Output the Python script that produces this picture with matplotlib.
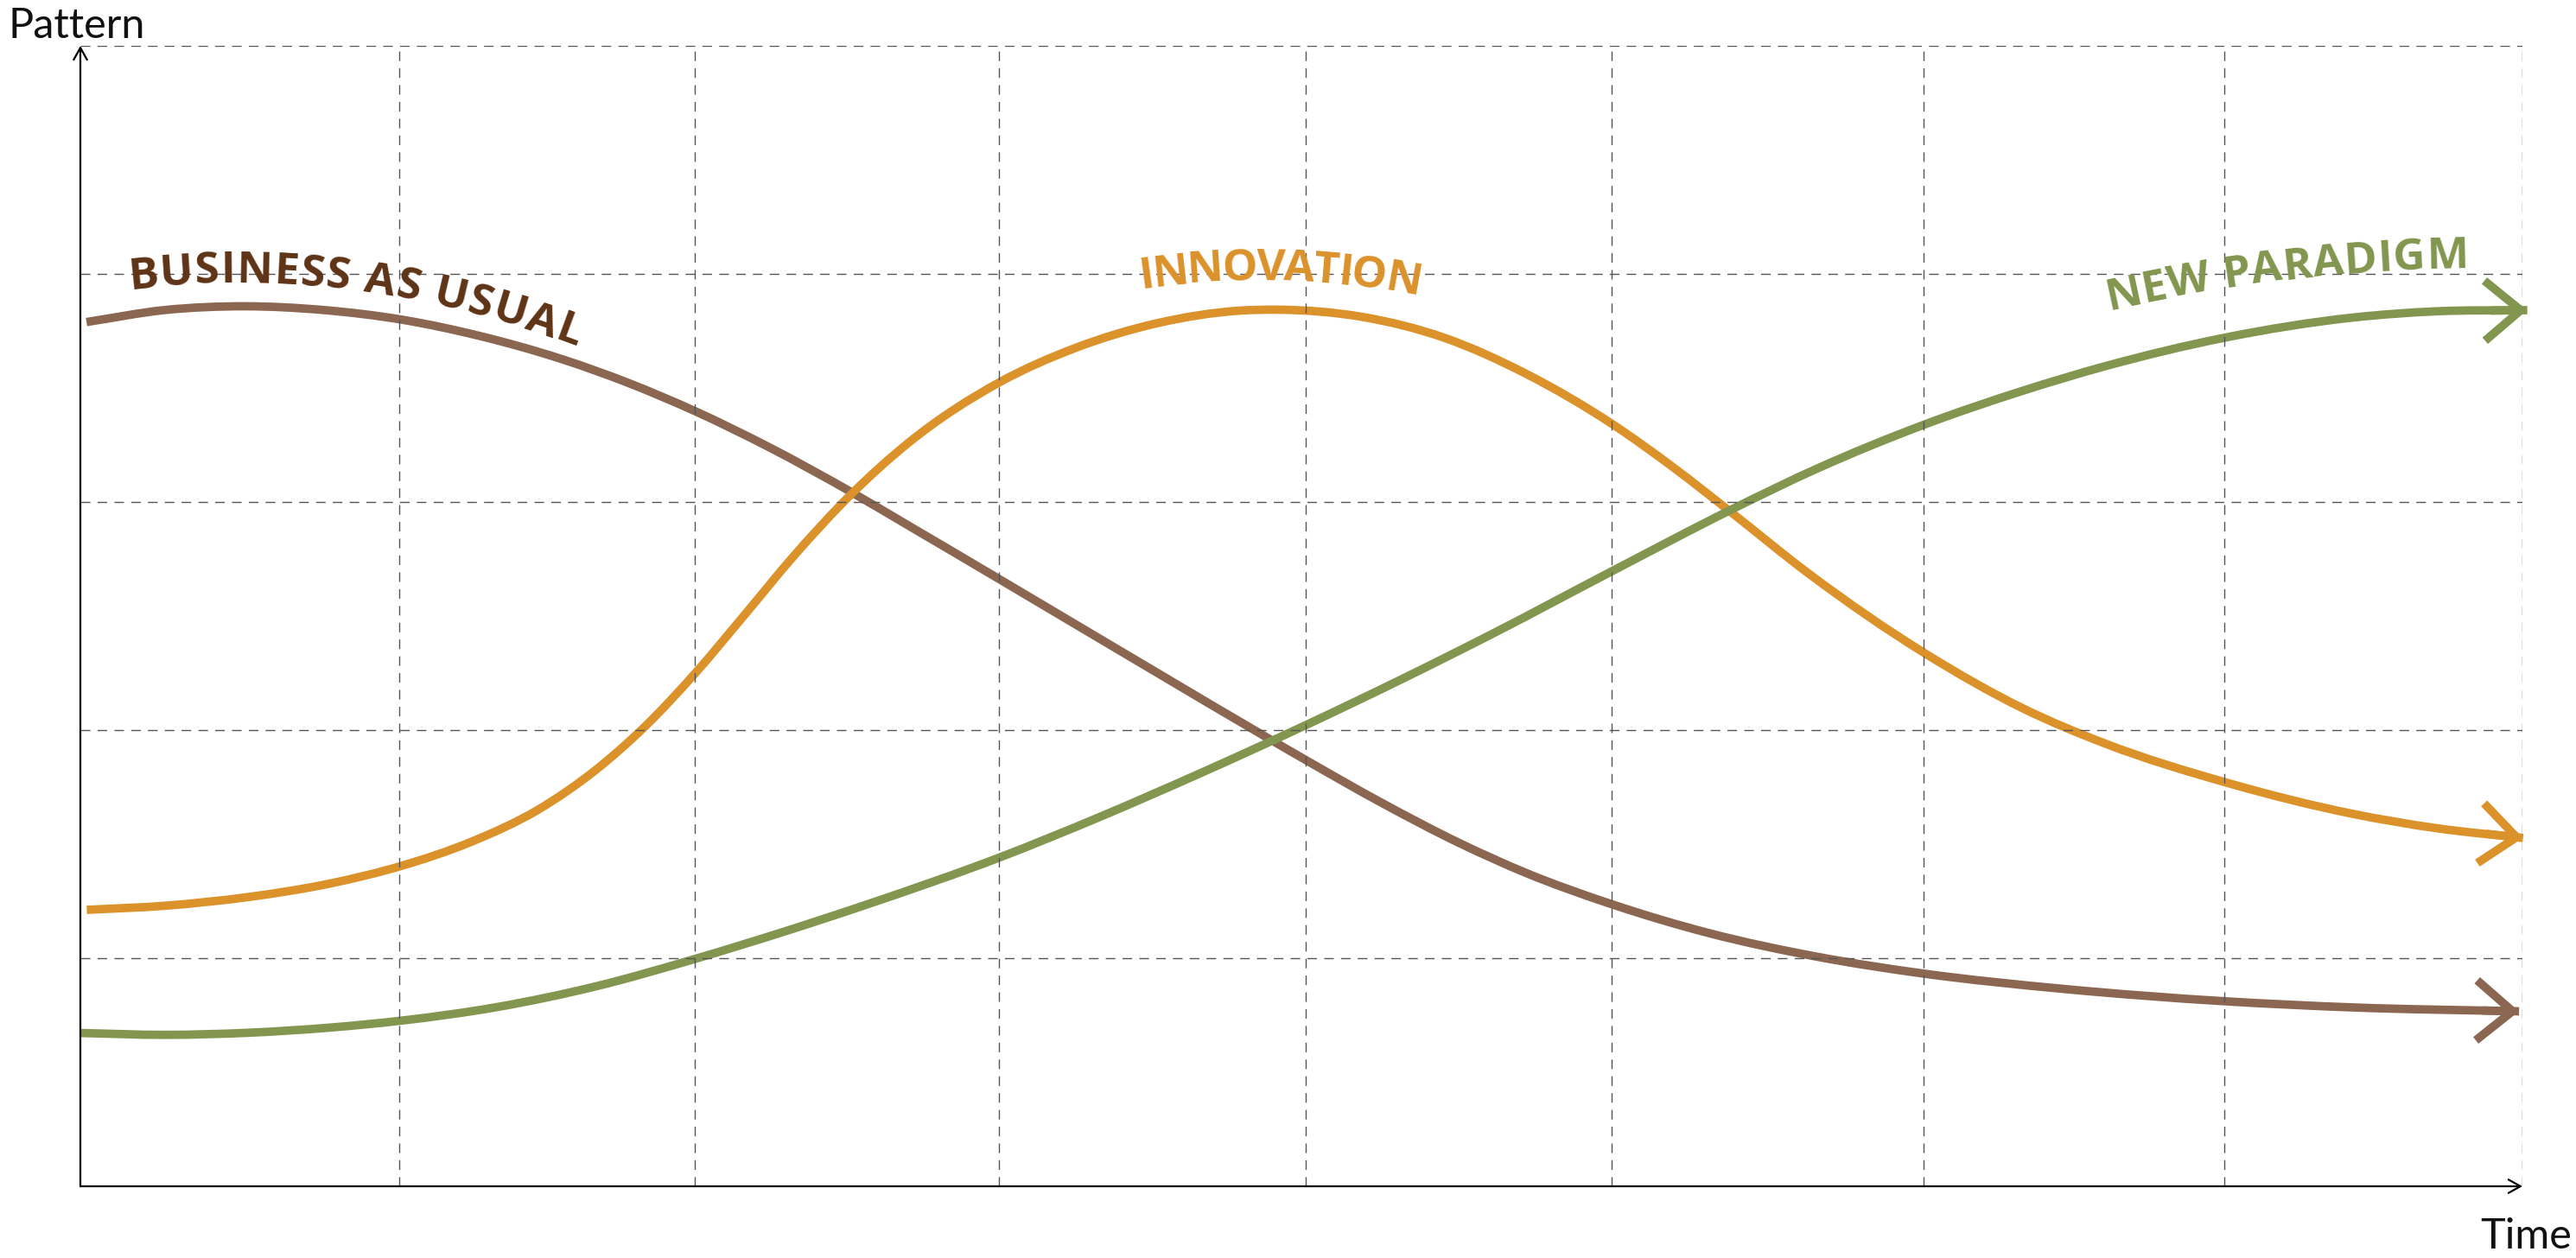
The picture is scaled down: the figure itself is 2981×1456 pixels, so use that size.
import numpy as np
import matplotlib
matplotlib.use("Agg")
import matplotlib.pyplot as plt
from matplotlib.font_manager import FontProperties
from matplotlib.path import Path
from matplotlib.patches import PathPatch

W, H = 2981, 1456

# values (x: grid cells of time, y: grid cells of pattern)
business_x = [0.02, 0.28, 0.536, 0.793, 1.05, 1.308, 1.578, 1.795, 2.014, 2.255, 2.526,
              2.715, 3.014, 3.257, 3.528, 3.880, 4.018, 4.251, 4.522, 4.739, 5.018, 5.335,
              5.687, 6.041, 6.499, 7.027, 7.447, 7.989]
business_y = [3.789, 3.842, 3.858, 3.842, 3.800, 3.728, 3.626, 3.522, 3.398, 3.241, 3.043,
              2.895, 2.659, 2.466, 2.251, 1.973, 1.866, 1.690, 1.502, 1.372, 1.236, 1.110,
              1.007, 0.932, 0.865, 0.811, 0.784, 0.767]

innovation_x = [0.021, 0.278, 0.549, 0.820, 1.050, 1.280, 1.497, 1.687, 1.849, 2.014, 2.174,
                2.337, 2.526, 2.716, 3.014, 3.257, 3.528, 3.799, 3.926, 4.197, 4.468, 4.739,
                5.018, 5.226, 5.402, 5.660, 6.042, 6.364, 6.635, 7.027, 7.447, 7.718, 8.002]
innovation_y = [1.212, 1.230, 1.268, 1.328, 1.404, 1.510, 1.649, 1.824, 2.015, 2.249, 2.502,
                2.763, 3.035, 3.263, 3.527, 3.674, 3.784, 3.839, 3.843, 3.812, 3.720, 3.560,
                3.342, 3.144, 2.961, 2.688, 2.337, 2.095, 1.940, 1.771, 1.632, 1.570, 1.527]

paradigm_x = [0.0, 0.278, 0.549, 0.820, 1.050, 1.362, 1.687, 2.014, 2.309, 2.580, 3.014,
              3.339, 3.664, 4.018, 4.333, 4.630, 5.018, 5.415, 5.687, 6.042, 6.364, 6.635,
              7.027, 7.447, 7.718, 8.016]
paradigm_y = [0.672, 0.664, 0.673, 0.696, 0.726, 0.785, 0.876, 0.997, 1.118, 1.237, 1.443,
              1.619, 1.808, 2.024, 2.226, 2.425, 2.697, 2.971, 3.145, 3.340, 3.488, 3.596,
              3.721, 3.809, 3.836, 3.841]

grid_x = [1.045, 2.013, 3.009, 4.014, 5.016, 6.038, 7.023, 8.0]
grid_y = [1, 2, 3, 4, 5]

labels = ["BUSINESS AS USUAL", "INNOVATION", "NEW PARADIGM"]
line_colors = ["#8b6650", "#db922b", "#82964f"]
text_colors = ["#5e3316", "#db922b", "#82964f"]
# baseline guides for the curved labels (figure pixels, y from top)
guides = [
    [(150, 335), (290, 327), (520, 357), (668, 402)],
    [(1320, 334), (1497, 325), (1642, 343)],
    [(2440, 359), (2583, 332), (2857, 310)],
]

fig = plt.figure(figsize=(W / 100, H / 100), dpi=100)
ax = fig.add_axes([93 / W, (H - 1373) / H, (2919 - 93) / W, (1373 - 53) / H])
ax.set_xlim(0, 8)
ax.set_ylim(0, 5)
for s in ax.spines.values():
    s.set_visible(False)
ax.set_xticks([])
ax.set_yticks([])

dash = (0, (8, 6))
ax.vlines(grid_x, 0, 5, colors="#555555", linestyles=dash, lw=1.0)
ax.hlines(grid_y, 0, 8, colors="#555555", linestyles=dash, lw=1.0)

# axes with small open arrow heads
ax_arrow = dict(arrowstyle="->,head_length=0.5,head_width=0.28", lw=1.6, color="black",
                mutation_scale=20, shrinkA=0, shrinkB=0)
ax.annotate("", xy=(0, 5), xytext=(0, 0), arrowprops=ax_arrow, annotation_clip=False)
ax.annotate("", xy=(8, 0), xytext=(0, 0), arrowprops=ax_arrow, annotation_clip=False)


def smooth(xs, ys):
    # cubic Hermite through the read points, drawn as bezier segments
    xs = np.asarray(xs, float)
    ys = np.asarray(ys, float)
    m = np.gradient(ys, xs)
    verts = [(xs[0], ys[0])]
    codes = [Path.MOVETO]
    for i in range(len(xs) - 1):
        d = (xs[i + 1] - xs[i]) / 3
        verts += [(xs[i] + d, ys[i] + m[i] * d), (xs[i + 1] - d, ys[i + 1] - m[i + 1] * d),
                  (xs[i + 1], ys[i + 1])]
        codes += [Path.CURVE4] * 3
    return Path(verts, codes), m[-1]


series = [(business_x, business_y), (innovation_x, innovation_y), (paradigm_x, paradigm_y)]
for (xs, ys), c in zip(series, line_colors):
    path, slope = smooth(xs, ys)
    ax.add_patch(PathPatch(path, facecolor="none", edgecolor=c, lw=7.0, capstyle="butt",
                           joinstyle="round", clip_on=False))
    back = 0.12
    ax.annotate("", xy=(xs[-1], ys[-1]), xytext=(xs[-1] - back, ys[-1] - slope * back),
                annotation_clip=False,
                arrowprops=dict(arrowstyle="->,head_length=3.0,head_width=2.5", lw=7.0,
                                color=c, mutation_scale=10, shrinkA=0, shrinkB=0,
                                joinstyle="miter", capstyle="butt"))

fig.text(10 / W, (H - 44) / H, "Pattern", fontsize=35, family="Lato", color="#111111",
         va="baseline", ha="left")
fig.text(2870 / W, (H - 1445) / H, "Time", fontsize=35, family="Lato", color="#111111",
         va="baseline", ha="left")

# letters laid along a curved baseline
fig.canvas.draw()
rend = fig.canvas.get_renderer()
fp = FontProperties(family="Open Sans", weight="bold", size=37)


def tw(s):
    return rend.get_text_width_height_descent(s, fp, ismath=False)[0]


def text_on_curve(text, guide, color):
    gx = np.array([p[0] for p in guide], float)
    gy = H - np.array([p[1] for p in guide], float)
    coef = np.polyfit(gx, gy, 2)
    xs = np.linspace(gx[0], gx[-1] + 300, 2000)
    yy = np.polyval(coef, xs)
    cum = np.concatenate([[0], np.cumsum(np.hypot(np.diff(xs), np.diff(yy)))])
    target = np.interp(gx[-1], xs, cum)
    space = tw("n n") - tw("nn")
    widths = [space if ch == " " else tw(ch) for ch in text]
    track = (target - sum(widths)) / (len(text) - 1)
    pos = 0.0
    for ch, w in zip(text, widths):
        s = pos + w / 2
        pos += w + track
        if ch == " ":
            continue
        px = np.interp(s, cum, xs)
        py = np.polyval(coef, px)
        ang = np.degrees(np.arctan(np.polyval(np.polyder(coef), px)))
        fig.text(px / W, py / H, ch, fontproperties=fp, color=color, rotation=ang,
                 rotation_mode="anchor", ha="center", va="baseline")


for t, g, c in zip(labels, guides, text_colors):
    text_on_curve(t, g, c)

fig.savefig("out.png", dpi=100)
